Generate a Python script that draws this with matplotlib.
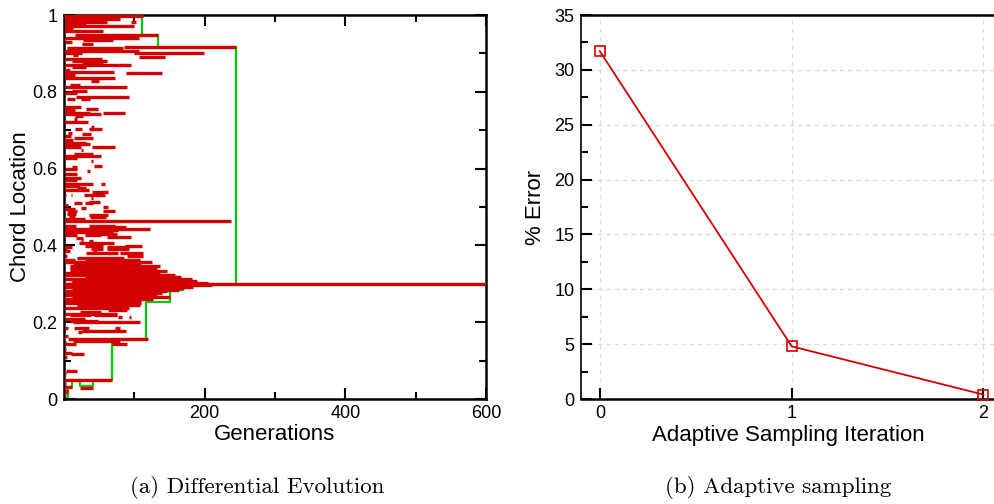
import numpy as np
import matplotlib.pyplot as plt
from matplotlib.ticker import MultipleLocator, FixedLocator

# (a) candidate lifetimes: chord location, first and last generation
seg_loc = [
    0.997, 0.990, 0.983, 0.983, 0.976, 0.971, 0.966, 0.958, 0.948, 0.940,
    0.934, 0.929, 0.925, 0.918, 0.913, 0.906, 0.902, 0.900, 0.897, 0.891,
    0.886, 0.879, 0.875, 0.871, 0.864, 0.858, 0.852, 0.850, 0.845, 0.837,
    0.829, 0.819, 0.813, 0.803, 0.798, 0.787, 0.782, 0.782, 0.761, 0.756,
    0.753, 0.746, 0.746, 0.742, 0.737, 0.730, 0.721, 0.721, 0.708, 0.704,
    0.704, 0.694, 0.691, 0.685, 0.681, 0.674, 0.667, 0.664, 0.655, 0.655,
    0.648, 0.637, 0.633, 0.627, 0.621, 0.607, 0.603, 0.600, 0.595, 0.587,
    0.576, 0.571, 0.560, 0.560, 0.554, 0.550, 0.545, 0.540, 0.532, 0.532,
    0.532, 0.523, 0.514, 0.510, 0.510, 0.505, 0.501, 0.497, 0.494, 0.490,
    0.490, 0.482, 0.479, 0.473, 0.473, 0.468, 0.464, 0.451, 0.451, 0.447,
    0.444, 0.439, 0.435, 0.431, 0.426, 0.426, 0.423, 0.419, 0.415, 0.411,
    0.405, 0.399, 0.399, 0.396, 0.396, 0.391, 0.391, 0.391, 0.386, 0.386,
    0.381, 0.381, 0.372, 0.372, 0.367, 0.362, 0.362, 0.358, 0.352, 0.347,
    0.342, 0.337, 0.333, 0.327, 0.322, 0.317, 0.312, 0.308, 0.303, 0.300,
    0.296, 0.293, 0.288, 0.285, 0.280, 0.275, 0.270, 0.265, 0.261, 0.256,
    0.251, 0.246, 0.241, 0.236, 0.232, 0.227, 0.222, 0.218, 0.218, 0.213,
    0.213, 0.209, 0.204, 0.200, 0.184, 0.184, 0.184, 0.178, 0.175, 0.164,
    0.155, 0.151, 0.149, 0.142, 0.142, 0.131, 0.121, 0.116, 0.110, 0.074,
    0.069, 0.050, 0.040, 0.032, 0.029, 0.022, 0.018, 0.009,
]
seg_start = [
    0, 1, 1, 96, 1, 1, 1, 1, 16, 1,
    27, 1, 25, 85, 4, 1, 100, 1, 13, 106,
    1, 11, 25, 1, 11, 1, 1, 88, 1, 1,
    39, 9, 1, 11, 1, 17, 5, 24, 1, 31,
    1, 1, 55, 1, 16, 14, 1, 26, 38, 16,
    36, 6, 26, 1, 14, 1, 1, 1, 1, 40,
    24, 14, 1, 1, 38, 42, 11, 1, 33, 1,
    1, 1, 1, 53, 1, 19, 1, 40, 1, 10,
    29, 38, 36, 14, 30, 1, 56, 24, 1, 5,
    56, 5, 36, 7, 37, 1, 1, 1, 36, 58,
    1, 24, 1, 35, 1, 30, 61, 17, 24, 36,
    21, 30, 87, 1, 61, 1, 39, 61, 1, 41,
    32, 79, 1, 89, 19, 1, 30, 1, 13, 8,
    8, 8, 30, 1, 1, 30, 1, 11, 10, 0,
    13, 1, 16, 11, 1, 1, 1, 11, 1, 1,
    1, 18, 35, 1, 63, 23, 1, 8, 42, 77,
    93, 1, 8, 13, 1, 14, 73, 25, 20, 1,
    6, 13, 1, 1, 68, 1, 1, 10, 1, 3,
    1, 1, 1, 1, 23, 1, 1, 1,
]
seg_end = [
    112, 80, 61, 102, 31, 99, 13, 56, 134, 107,
    70, 11, 41, 245, 84, 107, 199, 25, 20, 144,
    54, 61, 55, 95, 32, 8, 71, 139, 15, 73,
    50, 23, 89, 33, 18, 92, 16, 37, 24, 48,
    16, 37, 87, 53, 27, 18, 27, 34, 42, 25,
    54, 11, 39, 10, 41, 13, 32, 37, 24, 72,
    27, 41, 52, 19, 41, 54, 18, 18, 37, 19,
    24, 19, 41, 58, 23, 32, 36, 63, 3, 12,
    59, 41, 51, 25, 41, 6, 62, 31, 16, 19,
    73, 17, 62, 16, 60, 30, 237, 17, 73, 88,
    123, 77, 70, 75, 18, 52, 95, 27, 27, 41,
    71, 55, 111, 11, 92, 4, 55, 92, 8, 47,
    77, 112, 4, 112, 86, 16, 108, 125, 110, 137,
    132, 125, 146, 137, 158, 167, 182, 189, 205, 600,
    210, 184, 170, 163, 146, 139, 132, 151, 127, 110,
    110, 108, 77, 92, 89, 53, 75, 39, 75, 82,
    96, 30, 49, 108, 6, 35, 79, 88, 25, 6,
    119, 79, 3, 17, 89, 3, 12, 28, 5, 18,
    3, 68, 3, 12, 41, 6, 6, 3,
]

# (a) best chord location so far
best_gen = [6, 6, 11, 11, 23, 23, 41, 41, 68, 68, 117, 117, 151, 151,
            169, 169, 245, 245, 134, 134, 111, 111]
best_loc = [0.0, 0.032, 0.032, 0.05, 0.05, 0.033, 0.033, 0.05, 0.05, 0.155,
            0.155, 0.253, 0.253, 0.284, 0.284, 0.300, 0.300, 0.918, 0.918,
            0.948, 0.948, 1.0]

# (b) error per adaptive sampling iteration
iteration = [0, 1, 2]
error_pct = [31.7, 4.8, 0.4]

red = '#d20000'
green = '#00cc00'

plt.rcParams['font.family'] = ['Liberation Sans', 'DejaVu Sans']
plt.rcParams['font.size'] = 13

fig = plt.figure(figsize=(9.95, 5.04), dpi=100)
ax1 = fig.add_axes([0.0643, 0.2083, 0.4241, 0.7619])
ax2 = fig.add_axes([0.5836, 0.2083, 0.4164, 0.7619])

# --- differential evolution history ---
ax1.plot(best_gen, best_loc, color=green, lw=1.6, zorder=2)
ax1.hlines(seg_loc, seg_start, seg_end, colors=red, lw=2.4, zorder=3)
ax1.set_xlim(0, 600)
ax1.set_ylim(0, 1)
ax1.xaxis.set_major_locator(FixedLocator([200, 400, 600]))
ax1.xaxis.set_minor_locator(FixedLocator([100, 300, 500]))
ax1.set_yticks([0, 0.2, 0.4, 0.6, 0.8, 1.0])
ax1.set_yticklabels(['0', '0.2', '0.4', '0.6', '0.8', '1'])
ax1.yaxis.set_minor_locator(MultipleLocator(0.1))
ax1.tick_params(which='both', direction='in', top=True, right=True,
                width=1.5, labelsize=13, pad=4.5)
ax1.tick_params(which='major', length=8)
ax1.tick_params(which='minor', length=5)
for sp in ax1.spines.values():
    sp.set_linewidth(1.8)
ax1.set_xlabel('Generations', fontsize=16, labelpad=1)
ax1.set_ylabel('Chord Location', fontsize=16, labelpad=1)

# --- adaptive sampling error ---
ax2.plot(iteration, error_pct, color=red, lw=1.3, marker='s', ms=7,
         mfc='none', mec=red, mew=1.2, clip_on=False, zorder=3)
ax2.set_xlim(-0.1, 2.06)
ax2.set_ylim(0, 35)
ax2.set_xticks(iteration)
ax2.yaxis.set_major_locator(MultipleLocator(5))
ax2.yaxis.set_minor_locator(MultipleLocator(2.5))
ax2.set_axisbelow(True)
ax2.grid(True, which='major', ls=(0, (3, 3)), color='#dddddd', lw=1)
ax2.tick_params(which='both', direction='in', width=1.5, labelsize=13, pad=4.5)
ax2.tick_params(which='major', length=8)
ax2.tick_params(which='minor', length=5)
ax2.spines['right'].set_visible(False)
ax2.spines['left'].set_linewidth(1.2)
ax2.spines['bottom'].set_linewidth(1.8)
ax2.spines['top'].set_linewidth(1.8)
ax2.set_xlabel('Adaptive Sampling Iteration', fontsize=16, labelpad=2)
ax2.set_ylabel('% Error', fontsize=16, labelpad=6)

fig.text(0.258, 0.032, '(a) Differential Evolution', family='cmr10',
         fontsize=16.5, ha='center', va='center')
fig.text(0.782, 0.032, '(b) Adaptive sampling', family='cmr10',
         fontsize=16.5, ha='center', va='center')

fig.savefig('out.png', dpi=100)
